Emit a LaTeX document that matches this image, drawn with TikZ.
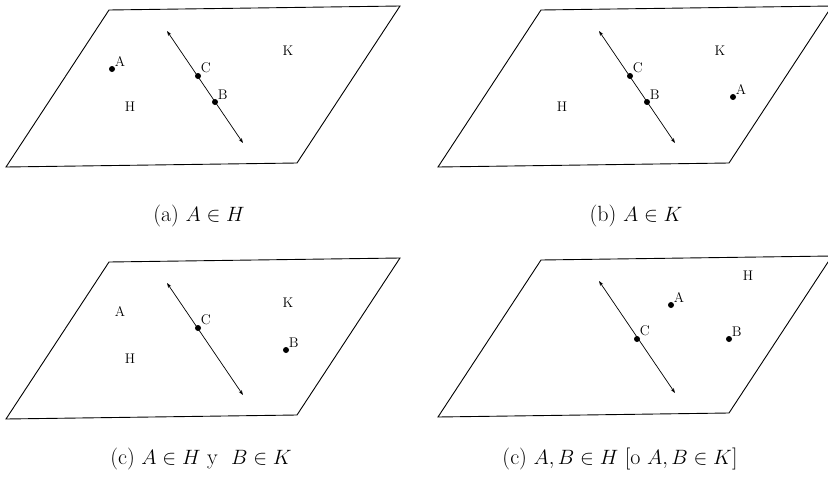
\documentclass[tikz,border=0pt]{standalone}
\usepackage{amsmath}
\usepackage{amssymb}
\usepackage{tikz}
\usetikzlibrary{arrows.meta, positioning}
\tikzset{
  plane/.style={
    draw, line width=0.9pt, line join=miter
  },
  ptdot/.style={
    circle, fill, inner sep=0pt, minimum size=6pt
  },
  ptlabel/.style={
    font=\fontsize{14}{16}\selectfont, inner sep=0.5pt
  },
  regionlabel/.style={
    font=\fontsize{14}{16}\selectfont
  },
  caption/.style={
    font=\fontsize{22}{26}\selectfont
  },
  arrow/.style={
    {Stealth[length=5pt,width=3.5pt]}-{Stealth[length=5pt,width=3.5pt]}, line width=0.7pt
  },
}

\begin{document}
\begin{tikzpicture}[x=1pt, y=-1pt]

  \useasboundingbox (0,0) rectangle (828,482);
  \clip (0,0) rectangle (828,482);

  %%% (a) top left %%%
  \begin{scope}
    \coordinate (a_p1) at (109,10);
    \coordinate (a_p2) at (400,6);
    \coordinate (a_p3) at (297,163);
    \coordinate (a_p4) at (6,167);
    \draw[plane] (a_p1) -- (a_p2) -- (a_p3) -- (a_p4) -- cycle;

    \coordinate (a_l1) at (167,31);
    \coordinate (a_l2) at (243,143);
    \draw[arrow] (a_l1) -- (a_l2);

    \node[ptdot, label={[ptlabel]above right:A}] (a_A) at (112,69) {};
    \node[ptdot, label={[ptlabel]above right:C}] (a_C) at (198,76) {};
    \node[ptdot, label={[ptlabel]above right:B}] (a_B) at (215,102) {};

    \node[regionlabel] (a_H) at (130,107) {H};
    \node[regionlabel] (a_K) at (288,51) {K};

    \node[caption] (a_cap) at (199,216) {(a) $A\in H$};
  \end{scope}

  %%% (b) top right %%%
  \begin{scope}[shift={(432,0)}]
    \coordinate (b_p1) at (109,10);
    \coordinate (b_p2) at (400,6);
    \coordinate (b_p3) at (297,163);
    \coordinate (b_p4) at (6,167);
    \draw[plane] (b_p1) -- (b_p2) -- (b_p3) -- (b_p4) -- cycle;

    \coordinate (b_l1) at (167,31);
    \coordinate (b_l2) at (243,143);
    \draw[arrow] (b_l1) -- (b_l2);

    \node[ptdot, label={[ptlabel]above right:C}] (b_C) at (198,76) {};
    \node[ptdot, label={[ptlabel]above right:B}] (b_B) at (215,102) {};
    \node[ptdot, label={[ptlabel]above right:A}] (b_A) at (301,97) {};

    \node[regionlabel] (b_H) at (130,107) {H};
    \node[regionlabel] (b_K) at (288,51) {K};

    \node[caption] (b_cap) at (204,216) {(b) $A\in K$};
  \end{scope}

  %%% (c) bottom left %%%
  \begin{scope}[shift={(0,252)}]
    \coordinate (c_p1) at (109,10);
    \coordinate (c_p2) at (400,6);
    \coordinate (c_p3) at (297,163);
    \coordinate (c_p4) at (6,167);
    \draw[plane] (c_p1) -- (c_p2) -- (c_p3) -- (c_p4) -- cycle;

    \coordinate (c_l1) at (167,31);
    \coordinate (c_l2) at (243,143);
    \draw[arrow] (c_l1) -- (c_l2);

    \node[ptdot, label={[ptlabel]above right:C}] (c_C) at (198,76) {};
    \node[ptdot, label={[ptlabel]above right:B}] (c_B) at (286,98) {};

    \node[regionlabel] (c_A) at (120,59) {A};
    \node[regionlabel] (c_H) at (130,107) {H};
    \node[regionlabel] (c_K) at (288,51) {K};

    \node[caption] (c_cap) at (201,207) {(c) $A\in H$ y\ \ $B\in K$};
  \end{scope}

  %%% (d) bottom right %%%
  \begin{scope}[shift={(432,250)}]
    \coordinate (d_p1) at (109,10);
    \coordinate (d_p2) at (400,6);
    \coordinate (d_p3) at (297,163);
    \coordinate (d_p4) at (6,167);
    \draw[plane] (d_p1) -- (d_p2) -- (d_p3) -- (d_p4) -- cycle;

    \coordinate (d_l1) at (167,31);
    \coordinate (d_l2) at (243,143);
    \draw[arrow] (d_l1) -- (d_l2);

    \node[ptdot, label={[ptlabel]above right:C}] (d_C) at (205,89) {};
    \node[ptdot, label={[ptlabel]above right:A}] (d_A) at (239,55) {};
    \node[ptdot, label={[ptlabel]above right:B}] (d_B) at (297,89) {};

    \node[regionlabel] (d_H) at (316,26) {H};

    \node[caption] (d_cap) at (188,209) {(c) $A,B\in H$ [o $A,B\in K$]};
  \end{scope}

\end{tikzpicture}
\end{document}
